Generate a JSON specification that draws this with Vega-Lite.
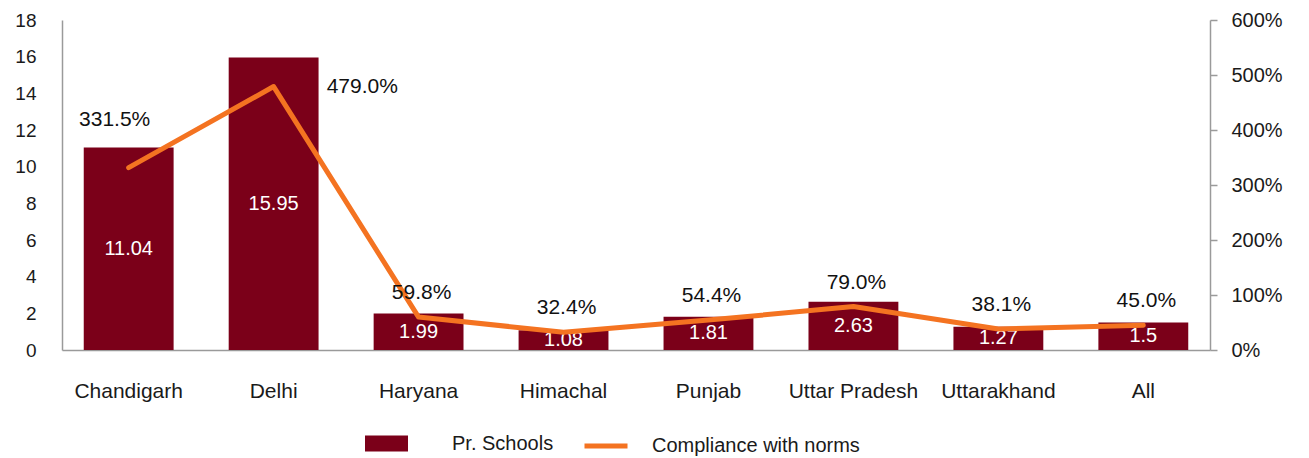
{
  "$schema": "https://vega.github.io/schema/vega-lite/v6.json",
  "width": 1148,
  "height": 330,
  "autosize": {"type": "none"},
  "padding": {"left": 62, "top": 20, "right": 99, "bottom": 108},
  "config": {
    "font": "Liberation Sans",
    "view": {"stroke": null},
    "axis": {"grid": false, "labelFontSize": 19, "labelColor": "#1a1a1a", "domainColor": "#9a9a9a", "domainWidth": 1.5, "tickColor": "#9a9a9a", "tickWidth": 1.5, "labelFont": "Liberation Sans", "labelOverlap": false},
    "legend": {"labelFontSize": 20, "labelColor": "#1a1a1a", "labelFont": "Liberation Sans", "labelLimit": 0}
  },
  "data": {
    "values": [
      {"state": "Chandigarh", "schools": 11.04, "comp": 3.315},
      {"state": "Delhi", "schools": 15.95, "comp": 4.79},
      {"state": "Haryana", "schools": 1.99, "comp": 0.598},
      {"state": "Himachal", "schools": 1.08, "comp": 0.324},
      {"state": "Punjab", "schools": 1.81, "comp": 0.544},
      {"state": "Uttar Pradesh", "schools": 2.63, "comp": 0.79},
      {"state": "Uttarakhand", "schools": 1.27, "comp": 0.381},
      {"state": "All", "schools": 1.5, "comp": 0.45}
    ]
  },
  "encoding": {
    "x": {
      "field": "state", "type": "nominal", "sort": null,
      "scale": {"paddingInner": 0.38, "paddingOuter": 0.15},
      "axis": {"title": null, "labelAngle": 0, "ticks": false, "labelPadding": 41, "labelBaseline": "middle", "labelFontSize": 21}
    }
  },
  "layer": [
    {
      "layer": [
        {
          "mark": {"type": "bar"},
          "encoding": {
            "y": {"field": "schools", "type": "quantitative", "scale": {"domain": [0, 18], "nice": false},
              "axis": {"title": null, "values": [0, 2, 4, 6, 8, 10, 12, 14, 16, 18], "ticks": false, "labelPadding": 26, "labelOverlap": false, "labelFontSize": 19}},
            "color": {"datum": "Pr. Schools", "scale": {"range": ["#7B0019"]},
              "legend": {"title": null, "orient": "none", "legendX": 303, "legendY": 402, "padding": 0, "symbolType": "M-1,-0.372H1V0.372H-1Z", "symbolSize": 1849, "symbolStrokeWidth": 0, "labelOffset": 44, "symbolOpacity": 1}}
          }
        },
        {
          "transform": [{"calculate": "datum.schools/2", "as": "mid"}],
          "mark": {"type": "text", "color": "white", "fontSize": 20, "baseline": "middle", "font": "Liberation Sans"},
          "encoding": {
            "y": {"field": "mid", "type": "quantitative",
              "axis": {"title": null, "values": [0, 2, 4, 6, 8, 10, 12, 14, 16, 18], "ticks": false, "labelPadding": 26, "labelOverlap": false, "labelFontSize": 19}},
            "text": {"field": "schools", "type": "nominal"}
          }
        }
      ]
    },
    {
      "layer": [
        {
          "mark": {"type": "line", "strokeWidth": 5, "strokeCap": "round", "strokeJoin": "round"},
          "encoding": {
            "y": {"field": "comp", "type": "quantitative", "scale": {"domain": [0, 6], "nice": false},
              "axis": {"title": null, "orient": "right", "values": [0, 1, 2, 3, 4, 5, 6], "format": ".0%", "tickSize": 7, "labelPadding": 14, "labelFontSize": 20}},
            "stroke": {"datum": "Compliance with norms", "scale": {"range": ["#F47321"]},
              "legend": {"title": null, "orient": "none", "legendX": 520, "legendY": 402, "padding": 0, "symbolType": "stroke", "symbolSize": 1849, "symbolStrokeWidth": 5, "labelOffset": 22}}
          }
        },
        {
          "transform": [{"filter": "datum.state !== 'Delhi' && datum.state !== 'Chandigarh'"}],
          "mark": {"type": "text", "color": "#111111", "fontSize": 21, "baseline": "middle", "dx": 3, "dy": -24, "font": "Liberation Sans"},
          "encoding": {
            "y": {"field": "comp", "type": "quantitative"},
            "text": {"field": "comp", "type": "quantitative", "format": ".1%"}
          }
        },
        {
          "transform": [{"filter": "datum.state === 'Chandigarh'"}],
          "mark": {"type": "text", "color": "#111111", "fontSize": 21, "baseline": "middle", "dx": -14, "dy": -48, "font": "Liberation Sans"},
          "encoding": {
            "y": {"field": "comp", "type": "quantitative"},
            "text": {"field": "comp", "type": "quantitative", "format": ".1%"}
          }
        },
        {
          "transform": [{"filter": "datum.state === 'Delhi'"}],
          "mark": {"type": "text", "color": "#111111", "fontSize": 21, "baseline": "middle", "align": "left", "dx": 53, "dy": 0, "font": "Liberation Sans"},
          "encoding": {
            "y": {"field": "comp", "type": "quantitative"},
            "text": {"field": "comp", "type": "quantitative", "format": ".1%"}
          }
        }
      ]
    }
  ],
  "resolve": {"scale": {"y": "independent", "color": "independent", "stroke": "independent"}}
}
